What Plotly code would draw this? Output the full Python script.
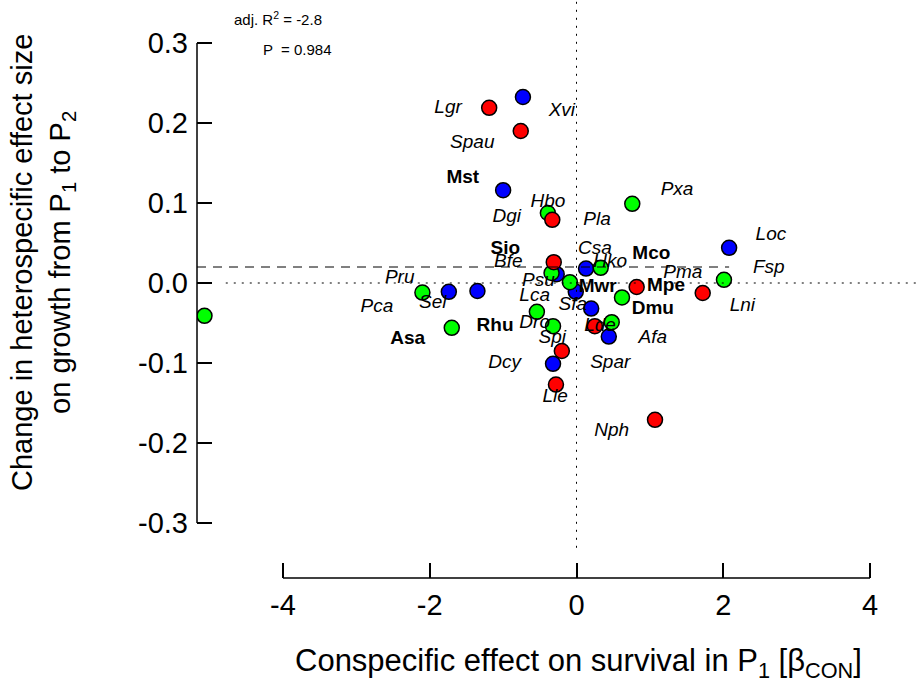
import plotly.graph_objects as go

# ---------------- data ----------------
red_x = [-1.19, -0.76, -0.33, -0.31, 0.82, 1.72, 0.25, -0.20, -0.28, 1.07]
red_y = [0.219, 0.190, 0.079, 0.026, -0.005, -0.0125, -0.054, -0.085, -0.127, -0.171]

blue_x = [-0.73, -1.00, 2.08, -0.27, 0.13, -0.01, 0.20, 0.44, -0.32, -1.74, -1.35]
blue_y = [0.2325, 0.116, 0.044, 0.011, 0.018, -0.011, -0.032, -0.067, -0.101, -0.011, -0.010]

green_x = [-0.39, 0.76, 2.01, 0.62, -0.34, 0.33, -0.09, -0.54, -0.32, 0.48, -2.10, -1.70, -5.07]
green_y = [0.0875, 0.099, 0.004, -0.018, 0.0125, 0.019, 0.001, -0.036, -0.054, -0.049, -0.012, -0.056, -0.041]

# species labels (italic) and their positions
ital_text = ["Lgr", "Xvi", "Spau", "Hbo", "Dgi", "Pla", "Pxa", "Loc", "Fsp", "Lni", "Pma",
             "Csa", "Hko", "Bfe", "Psu", "Pru", "Sel", "Pca", "Lca", "Sfa", "Dro", "Lde",
             "Afa", "Spi", "Spar", "Dcy", "Lle", "Nph"]
ital_x = [-1.75, -0.20, -1.42, -0.39, -0.95, 0.28, 1.37, 2.65, 2.62, 2.26, 1.45,
          0.25, 0.46, -0.93, -0.52, -2.41, -1.96, -2.72, -0.57, -0.05, -0.57, 0.32,
          1.04, -0.33, 0.46, -0.98, -0.29, 0.48]
ital_y = [0.219, 0.215, 0.175, 0.101, 0.0825, 0.079, 0.116, 0.060, 0.019, -0.029, 0.0125,
          0.0425, 0.026, 0.026, 0.0025, 0.006, -0.025, -0.030, -0.016, -0.0275, -0.050, -0.054,
          -0.069, -0.069, -0.100, -0.100, -0.1425, -0.185]

# species labels (bold)
bold_text = ["Mst", "Mco", "Mpe", "Dmu", "Sio", "Mwr", "Rhu", "Asa"]
bold_x = [-1.55, 1.02, 1.22, 1.04, -0.97, 0.29, -1.11, -2.30]
bold_y = [0.131, 0.036, -0.004, -0.0325, 0.0425, -0.005, -0.054, -0.070]

fit_y = 0.02
x_ticks = [-4, -2, 0, 2, 4]
x_ticktext = ["-4", "-2", "0", "2", "4"]
y_ticks = [-0.3, -0.2, -0.1, 0.0, 0.1, 0.2, 0.3]
y_ticktext = ["-0.3", "-0.2", "-0.1", "0.0", "0.1", "0.2", "0.3"]

# ---------------- layout geometry ----------------
W, H = 917, 686
L, R, T, B = 197, 0, 0, 108
pw, ph = W - L - R, H - T - B
xpx = 73.375          # px per x unit
ypx = 800.0           # px per y unit
x0_px = 576.5         # pixel of x = 0
y0_px = 283.0         # pixel of y = 0
xr = [(L - x0_px) / xpx, (L + pw - x0_px) / xpx]
yr = [(y0_px - (T + ph)) / ypx, (y0_px - T) / ypx]


def px_to_paper_x(p):
    return (p - L) / pw


def px_to_paper_y(p):
    return (T + ph - p) / ph


FONT = "Liberation Sans, Arial, sans-serif"
mk_line = dict(color="black", width=1.5)

fig = go.Figure()

fig.add_trace(go.Scatter(x=blue_x, y=blue_y, mode="markers",
                         marker=dict(size=15, color="#0000FF", line=mk_line),
                         hoverinfo="skip", showlegend=False))
fig.add_trace(go.Scatter(x=green_x, y=green_y, mode="markers",
                         marker=dict(size=15, color="#00FF00", line=mk_line),
                         hoverinfo="skip", showlegend=False))
fig.add_trace(go.Scatter(x=red_x, y=red_y, mode="markers",
                         marker=dict(size=15, color="#FF0000", line=mk_line),
                         hoverinfo="skip", showlegend=False))
fig.add_trace(go.Scatter(x=ital_x, y=ital_y, mode="text", text=ital_text,
                         textposition="middle center",
                         textfont=dict(family=FONT, size=19, color="black", style="italic"),
                         hoverinfo="skip", showlegend=False))
fig.add_trace(go.Scatter(x=bold_x, y=bold_y, mode="text", text=bold_text,
                         textposition="middle center",
                         textfont=dict(family=FONT, size=19, color="black", weight="bold"),
                         hoverinfo="skip", showlegend=False))

all_x = red_x + blue_x + green_x
# fitted (flat) line
fig.add_shape(type="line", xref="x", yref="y", x0=xr[0], x1=max(all_x),
              y0=fit_y, y1=fit_y, line=dict(color="black", width=1, dash="9px,7px"))
# zero reference lines
fig.add_shape(type="line", xref="x", yref="y", x0=-4.78, x1=xr[1], y0=0, y1=0,
              line=dict(color="black", width=1, dash="2px,6px"))
fig.add_shape(type="line", xref="x", yref="y", x0=0, x1=0, y0=-0.331, y1=yr[1],
              line=dict(color="black", width=1, dash="2px,6px"))
# range-frame axis lines spanning only the tick range
fig.add_shape(type="line", xref="x", yref="paper", x0=x_ticks[0], x1=x_ticks[-1], y0=0, y1=0,
              line=dict(color="black", width=1.5))
fig.add_shape(type="line", xref="paper", yref="y", x0=0, x1=0, y0=y_ticks[0], y1=y_ticks[-1],
              line=dict(color="black", width=1.5))

tick_common = dict(showline=False, showgrid=False, zeroline=False,
                   ticks="inside", ticklen=15, tickwidth=1.5, tickcolor="black",
                   tickfont=dict(family=FONT, size=29, color="black"))
fig.update_layout(
    width=W, height=H,
    margin=dict(l=L, r=R, t=T, b=B, autoexpand=False),
    paper_bgcolor="white", plot_bgcolor="rgba(0,0,0,0)",
    showlegend=False,
    font=dict(family=FONT, color="black"),
    xaxis=dict(range=xr, tickvals=x_ticks, ticktext=x_ticktext, ticklabelstandoff=7,
               **tick_common),
    yaxis=dict(range=yr, tickvals=y_ticks, ticktext=y_ticktext, ticklabelstandoff=8,
               **tick_common),
)

fig.add_annotation(text="Conspecific effect on survival in P<sub>1</sub> [β<sub>CON</sub>]",
                   xref="paper", yref="paper", x=px_to_paper_x(578), y=px_to_paper_y(663),
                   xanchor="center", yanchor="middle", showarrow=False,
                   font=dict(family=FONT, size=31, color="black"))
fig.add_annotation(text="Change in heterospecific effect size<br>on growth from P<sub>1</sub> to P<sub>2</sub>",
                   xref="paper", yref="paper", x=px_to_paper_x(43), y=px_to_paper_y(263),
                   xanchor="center", yanchor="middle", textangle=-90, showarrow=False,
                   font=dict(family=FONT, size=29, color="black"))
fig.add_annotation(text="adj. R<sup>2</sup> = -2.8",
                   xref="paper", yref="paper", x=px_to_paper_x(232), y=px_to_paper_y(18),
                   xanchor="left", yanchor="middle", showarrow=False,
                   font=dict(family=FONT, size=15, color="black"))
fig.add_annotation(text="P  = 0.984",
                   xref="paper", yref="paper", x=px_to_paper_x(261), y=px_to_paper_y(50),
                   xanchor="left", yanchor="middle", showarrow=False,
                   font=dict(family=FONT, size=15, color="black"))

fig.write_html("out.html")
